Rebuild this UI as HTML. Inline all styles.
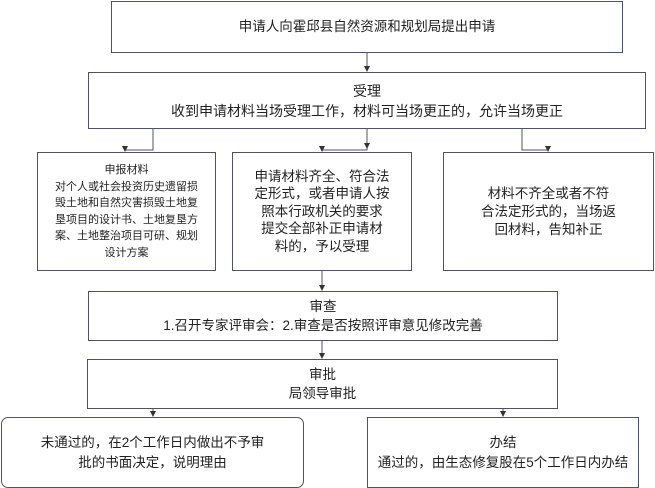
<!DOCTYPE html>
<html><head><meta charset="utf-8"><style>
body{margin:0;width:655px;height:488px;background:#fff;position:relative;overflow:hidden;font-family:"Liberation Sans","Noto Sans CJK SC",sans-serif;color:#222}
.b{position:absolute;box-sizing:border-box;border:1.3px solid #4d5266;display:flex;align-items:center;justify-content:center;text-align:center;font-size:13px;line-height:18px;background:#fff}
svg{position:absolute;left:0;top:0}
</style></head><body>
<svg width="655" height="488">
<defs><marker id="a" markerWidth="6" markerHeight="6" refX="5" refY="3" orient="auto"><path d="M0,0L6,3L0,6z" fill="#333"/></marker></defs>
<g stroke="#555" stroke-width="1" fill="none">
<line x1="367" y1="52" x2="367" y2="71" marker-end="url(#a)"/>
<polyline points="153,128 153,150 125,150"/>
<line x1="125" y1="146" x2="125" y2="151" marker-end="url(#a)"/>
<polyline points="367,128 367,150 322,150"/>
<line x1="367" y1="128" x2="367" y2="148" marker-end="url(#a)"/>
<line x1="322" y1="146" x2="322" y2="151" marker-end="url(#a)"/>
<polyline points="522,128 522,150 548,150"/>
<line x1="548" y1="146" x2="548" y2="151" marker-end="url(#a)"/>
<line x1="322" y1="270" x2="322" y2="290" marker-end="url(#a)"/>
<line x1="322" y1="340" x2="322" y2="358" marker-end="url(#a)"/>
<line x1="153" y1="408" x2="153" y2="416" marker-end="url(#a)"/>
<line x1="503" y1="408" x2="503" y2="416" marker-end="url(#a)"/>
</g></svg>
<div class="b" style="left:111px;top:1px;width:512px;height:52px;font-size:13.5px">申请人向霍邱县自然资源和规划局提出申请</div>
<div class="b" style="left:88px;top:72px;width:558px;height:57px;font-size:14px;line-height:20px">受理<br>收到申请材料当场受理工作，材料可当场更正的，允许当场更正</div>
<div class="b" style="left:37px;top:152px;width:179px;height:119px;font-size:11px;line-height:16.5px;padding:0 14px">申报材料<br>对个人或社会投资历史遗留损毁土地和自然灾害损毁土地复垦项目的设计书、土地复垦方案、土地整治项目可研、规划设计方案</div>
<div class="b" style="left:232px;top:152px;width:180px;height:119px;font-size:13.5px;line-height:17.5px">申请材料齐全、符合法<br>定形式，或者申请人按<br>照本行政机关的要求<br>提交全部补正申请材<br>料的，予以受理</div>
<div class="b" style="left:443px;top:152px;width:211px;height:119px;font-size:13.5px;line-height:18px">材料不齐全或者不符<br>合法定形式的，当场返<br>回材料，告知补正</div>
<div class="b" style="left:88px;top:291px;width:470px;height:50px;font-size:13.5px;line-height:19px">审查<br>1.召开专家评审会：2.审查是否按照评审意见修改完善</div>
<div class="b" style="left:87px;top:359px;width:471px;height:50px;font-size:13.5px;line-height:19px">审批<br>局领导审批</div>
<div class="b" style="left:1px;top:417px;width:303px;height:71px;border-radius:7px;font-size:13.5px;line-height:20px">未通过的，在2个工作日内做出不予审<br>批的书面决定，说明理由</div>
<div class="b" style="left:367px;top:417px;width:272px;height:71px;font-size:13.5px;line-height:20px">办结<br>通过的，由生态修复股在5个工作日内办结</div>
</body></html>
